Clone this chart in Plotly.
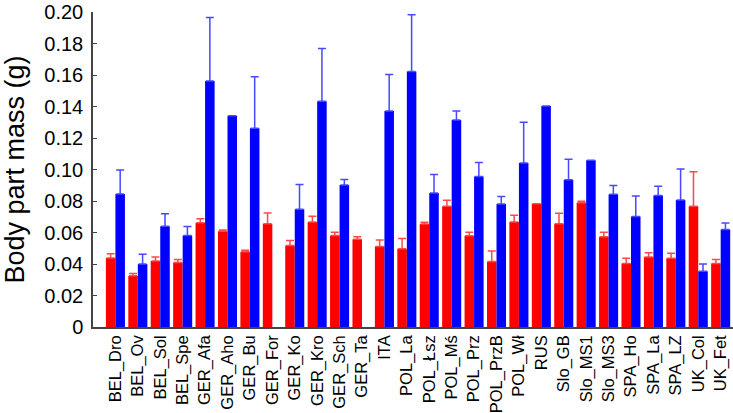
import plotly.graph_objects as go

categories = ["BEL_Dro", "BEL_Ov", "BEL_Sol", "BEL_Spe", "GER_Afa", "GER_Aho", "GER_Bu", "GER_For",
              "GER_Ko", "GER_Kro", "GER_Sch", "GER_Ta", "ITA", "POL_La", "POL_Łsz", "POL_Mś",
              "POL_Prz", "POL_PrzB", "POL_Wł", "RUS", "Slo_GB", "Slo_MS1", "Slo_MS3", "SPA_Ho",
              "SPA_La", "SPA_LZ", "UK_Col", "UK_Fet"]

red_values = [0.0439, 0.0325, 0.0420, 0.0410, 0.0663, 0.0609, 0.0478, 0.0657,
              0.0518, 0.0667, 0.0582, 0.0557, 0.0512, 0.0497, 0.0655, 0.0768,
              0.0580, 0.0416, 0.0667, 0.0783, 0.0657, 0.0789, 0.0574, 0.0404,
              0.0445, 0.0437, 0.0768, 0.0404]
red_err = [0.0027, 0.0015, 0.0025, 0.0019, 0.0025, 0.0008, 0.0009, 0.0068,
           0.0031, 0.0037, 0.0020, 0.0017, 0.0041, 0.0066, 0.0010, 0.0038,
           0.0022, 0.0067, 0.0044, None, 0.0066, 0.0010, 0.0028, 0.0033,
           0.0027, 0.0031, 0.0218, 0.0025]

blue_values = [0.0845, 0.0400, 0.0640, 0.0582, 0.1563, 0.1342, 0.1263, None,
               0.0748, 0.1435, 0.0903, None, 0.1373, 0.1624, 0.0851, 0.1315,
               0.0957, 0.0781, 0.1042, 0.1404, 0.0936, 0.1060, 0.0843, 0.0702,
               0.0835, 0.0807, 0.0354, 0.0619]
blue_err = [0.0153, 0.0062, 0.0079, 0.0056, 0.0404, None, 0.0327, None,
            0.0157, 0.0335, 0.0035, None, 0.0232, 0.0360, 0.0118, 0.0058,
            0.0089, 0.0048, 0.0260, None, 0.0130, None, 0.0056, 0.0130,
            0.0059, 0.0197, 0.0046, 0.0042]

y_ticks = [0, 0.02, 0.04, 0.06, 0.08, 0.10, 0.12, 0.14, 0.16, 0.18, 0.20]
y_ticktext = ["0", "0.02", "0.04", "0.06", "0.08", "0.10", "0.12", "0.14", "0.16", "0.18", "0.20"]

x_idx = list(range(len(categories)))


def zeros_like(vals):
    return [0 if v is not None else None for v in vals]


fig = go.Figure()
fig.add_trace(go.Bar(
    x=x_idx, y=red_values, marker=dict(color="#ff0000", line=dict(width=0)),
    error_y=dict(type="data", array=red_err, arrayminus=zeros_like(red_err), symmetric=False,
                 color="#ff4848", thickness=1.5, width=4),
    showlegend=False))
fig.add_trace(go.Bar(
    x=x_idx, y=blue_values, marker=dict(color="#0000ff", line=dict(width=0)),
    error_y=dict(type="data", array=blue_err, arrayminus=zeros_like(blue_err), symmetric=False,
                 color="#4848ff", thickness=1.5, width=4),
    showlegend=False))

fig.update_layout(
    width=733, height=413,
    margin=dict(l=93, r=0, t=12, b=86),
    barmode="group", bargap=0.15, bargroupgap=0,
    plot_bgcolor="white", paper_bgcolor="white",
    font=dict(family="Liberation Sans, Arial, sans-serif", color="black"),
    xaxis=dict(
        tickmode="array", tickvals=x_idx, ticktext=categories, tickangle=-90,
        range=[-1.0, 27.55], showline=True, linecolor="#444", linewidth=1.5,
        ticks="", showgrid=False, zeroline=False, tickfont=dict(size=16.5),
        automargin=False,
    ),
    yaxis=dict(
        range=[0, 0.2002], tickvals=y_ticks, ticktext=y_ticktext,
        showline=True, linecolor="#444", linewidth=1.5, ticks="inside", ticklen=4,
        tickcolor="#444", showgrid=False, zeroline=False, tickfont=dict(size=20),
        ticklabeloverflow="allow", ticklabelstandoff=4,
        title=dict(text="Body part mass (g)", font=dict(size=27), standoff=12),
        automargin=False,
    ),
)

fig.write_html("out.html", config={"displayModeBar": False},
               post_script="document.body.style.margin='0';document.body.style.overflow='hidden';")
